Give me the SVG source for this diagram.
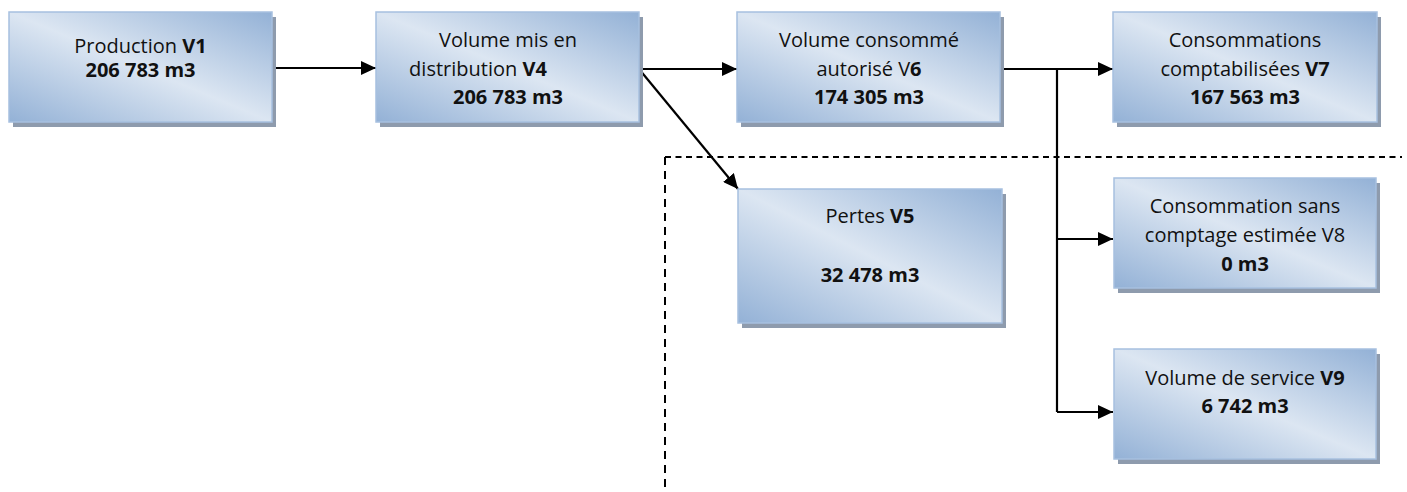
<svg xmlns="http://www.w3.org/2000/svg" width="1407" height="492" viewBox="0 0 1407 492">
  <defs>
    <linearGradient id="fill" x1="0" y1="1" x2="1" y2="0">
      <stop offset="0" stop-color="#93b1d6"/>
      <stop offset="0.5" stop-color="#dce6f2"/>
      <stop offset="1" stop-color="#93b1d6"/>
    </linearGradient>
    <marker id="arrow" markerUnits="userSpaceOnUse" markerWidth="15" markerHeight="14" viewBox="0 0 15 14" refX="15" refY="7" orient="auto">
      <path d="M0,0 L15,7 L0,14 z" fill="#000"/>
    </marker>
  </defs>
  <style>
    .shadow { fill: #8e9bad; }
    .box { fill: url(#fill); stroke: #a7c0df; stroke-width: 1.5; }
    text { font-family: "Open Sans", "Liberation Sans", sans-serif; font-size: 20px; fill: #111; text-anchor: middle; }
    .b { font-weight: bold; }
    .conn { fill: none; stroke: #000; stroke-width: 2.2; }
    .dash { fill: none; stroke: #000; stroke-width: 2; }
  </style>

  <g id="boundary">
    <path class="dash" d="M665,157 H1402" stroke-dasharray="6 4.5"/>
    <path class="dash" d="M665,157 V492" stroke-dasharray="8 6"/>
  </g>

  <g id="connectors">
    <path class="conn" d="M272,68 H376" marker-end="url(#arrow)"/>
    <path class="conn" d="M639,69 H737" marker-end="url(#arrow)"/>
    <path class="conn" d="M639,69 L738,189" marker-end="url(#arrow)"/>
    <path class="conn" d="M1000,69 H1113" marker-end="url(#arrow)"/>
    <path class="conn" d="M1057,69 V412"/>
    <path class="conn" d="M1057,239 H1113" marker-end="url(#arrow)"/>
    <path class="conn" d="M1057,412 H1113" marker-end="url(#arrow)"/>
  </g>

  <g id="v1">
    <rect class="shadow" x="13" y="17" width="263" height="110"/>
    <rect class="box" x="9" y="12" width="263" height="110"/>
    <text x="140.5" y="53">Production <tspan class="b">V1</tspan></text>
    <text x="140.5" y="77" class="b">206 783 m3</text>
  </g>

  <g id="v4">
    <rect class="shadow" x="380" y="17" width="263" height="110"/>
    <rect class="box" x="376" y="12" width="263" height="110"/>
    <text x="508" y="47">Volume mis en</text>
    <text x="478" y="76">distribution <tspan class="b">V4</tspan></text>
    <text x="508" y="104" class="b">206 783 m3</text>
  </g>

  <g id="v6">
    <rect class="shadow" x="741" y="17" width="263" height="110"/>
    <rect class="box" x="737" y="12" width="263" height="110"/>
    <text x="869" y="47">Volume consommé</text>
    <text x="869" y="76">autorisé V<tspan class="b">6</tspan></text>
    <text x="869" y="104" class="b">174 305 m3</text>
  </g>

  <g id="v7">
    <rect class="shadow" x="1117" y="17" width="264" height="110"/>
    <rect class="box" x="1113" y="12" width="264" height="110"/>
    <text x="1245" y="47">Consommations</text>
    <text x="1245" y="76">comptabilisées <tspan class="b">V7</tspan></text>
    <text x="1245" y="104" class="b">167 563 m3</text>
  </g>

  <g id="v5">
    <rect class="shadow" x="742" y="194" width="264" height="134"/>
    <rect class="box" x="738" y="189" width="264" height="134"/>
    <text x="870" y="223">Pertes <tspan class="b">V5</tspan></text>
    <text x="870" y="282" class="b">32 478 m3</text>
  </g>

  <g id="v8">
    <rect class="shadow" x="1118" y="183" width="262" height="110"/>
    <rect class="box" x="1114" y="178" width="262" height="110"/>
    <text x="1245" y="213">Consommation sans</text>
    <text x="1245" y="242">comptage estimée V8</text>
    <text x="1245" y="271" class="b">0 m3</text>
  </g>

  <g id="v9">
    <rect class="shadow" x="1118" y="354" width="262" height="110"/>
    <rect class="box" x="1114" y="349" width="262" height="110"/>
    <text x="1245" y="385">Volume de service <tspan class="b">V9</tspan></text>
    <text x="1245" y="413" class="b">6 742 m3</text>
  </g>
</svg>
